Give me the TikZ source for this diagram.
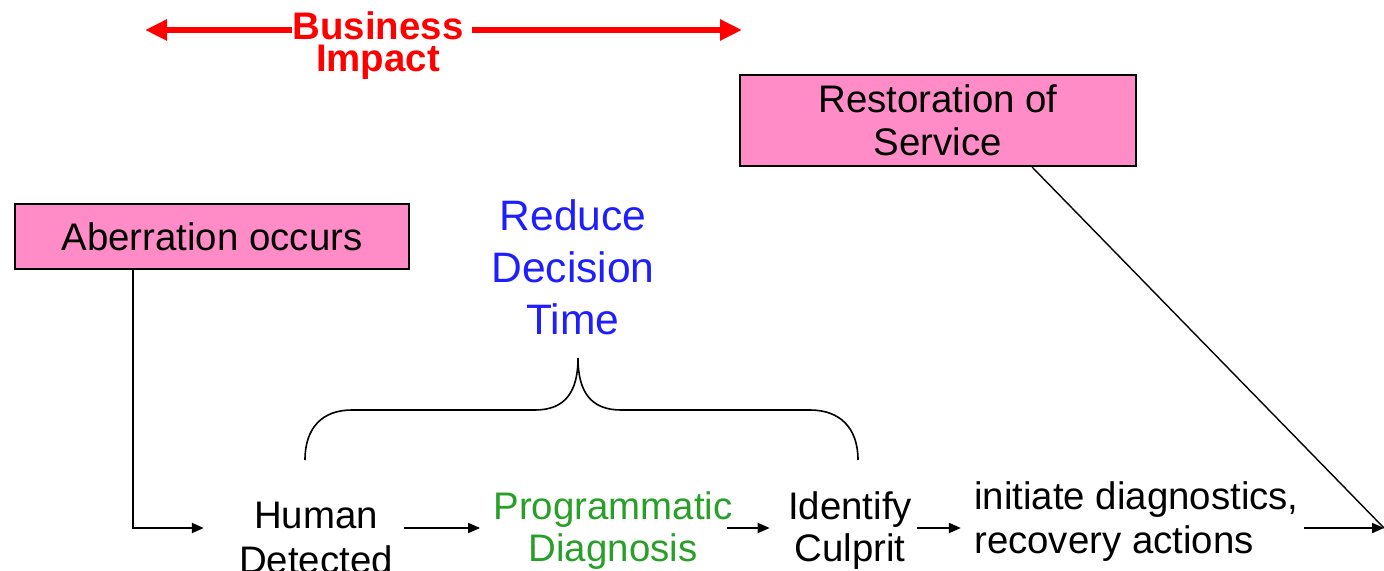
\documentclass[tikz,border=0pt]{standalone}
\usepackage{fontspec}
\setmainfont{Liberation Sans}
\usetikzlibrary{arrows.meta}
\definecolor{boxpink}{RGB}{255,140,198}
\definecolor{impactred}{RGB}{255,0,0}
\definecolor{reduceblue}{RGB}{30,30,255}
\definecolor{diaggreen}{RGB}{40,160,40}

\begin{document}
\begin{tikzpicture}[x=0.5pt,y=-0.5pt,
  pinkbox/.style={draw=black, line width=1pt, fill=boxpink, inner sep=0pt,
    align=center, font=\fontsize{19.2}{21.5}\selectfont},
  steptext/.style={inner sep=0pt, align=center},
  flow/.style={line width=1pt, -{Triangle[length=6pt,width=5pt]}},
  bigarrow/.style={draw=impactred, line width=3pt, -{Triangle[length=11pt,width=10pt]}},
  leader/.style={line width=0.7pt},
]
\useasboundingbox (0,0) rectangle (1384,571);

% Business impact span
\node[inner sep=0pt, text=impactred, align=center,
  font=\bfseries\fontsize{19.2}{16}\selectfont] (bi) at (378,46) {Business\\Impact};
\coordinate (bl) at (145,30);
\coordinate (br) at (742,30);
\draw[bigarrow] (bi.west |- bl) -- (bl);
\draw[bigarrow, shorten <=4pt] (bi.east |- br) -- (br);

% Start and end boxes
\node[pinkbox, minimum width=197pt, minimum height=32.5pt] (ab) at (212,236.5) {Aberration occurs};
\node[pinkbox, minimum width=198pt, minimum height=45.5pt] (rs) at (938,120.5) {Restoration of\\Service};

% Decision time and its brace
\node[inner sep=0pt, text=reduceblue, align=center,
  font=\fontsize{21.3}{26}\selectfont] (rd) at (573,267) {Reduce\\Decision\\Time};
\draw[line width=0.8pt] (305,460) .. controls (305,428) and (322,410) .. (352,410)
  -- (535,410) .. controls (565,410) and (578,392) .. (578,358)
  .. controls (578,392) and (591,410) .. (621,410)
  -- (810,410) .. controls (840,410) and (858,428) .. (858,460);

% Process steps
\node[steptext, font=\fontsize{19.2}{22.5}\selectfont] (hd) at (316,538) {Human\\Detected};
\node[steptext, text=diaggreen, font=\fontsize{19.2}{21}\selectfont] (pd) at (613,531) {Programmatic\\Diagnosis};
\node[steptext, font=\fontsize{19.2}{21}\selectfont] (ic) at (850,531) {Identify\\Culprit};
\node[steptext, align=left, font=\fontsize{19.2}{22}\selectfont] (ia) at (1136.5,522) {initiate diagnostics,\\recovery actions};

% Connectors
\coordinate (row) at (0,528);
\coordinate (drop) at (133,0);
\coordinate (fin) at (1384,528);
\coordinate (kink) at (1032,0);
\draw[flow, shorten >=17.5pt] (ab.south -| drop) |- (hd.west |- row);
\draw[flow, shorten <=5.5pt, shorten >=6.5pt] (hd.east |- row) -- (pd.west |- row);
\draw[flow, shorten <=-3pt, shorten >=9pt] (pd.east |- row) -- (ic.west |- row);
\draw[flow, shorten <=2.5pt, shorten >=6.5pt] (ic.east |- row) -- (ia.west |- row);
\draw[flow, shorten <=2.5pt] (ia.east |- row) -- (fin);
\draw[leader] (rs.south -| kink) -- (fin);
\end{tikzpicture}
\end{document}
